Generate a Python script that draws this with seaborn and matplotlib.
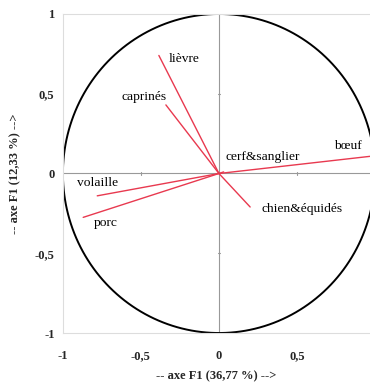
import numpy as np
import pandas as pd
import seaborn as sns
import matplotlib
matplotlib.use('Agg')
import matplotlib.pyplot as plt

sns.set_theme(style='white')
plt.rcParams['font.family'] = ['Liberation Serif', 'DejaVu Serif']

# correlation circle data (F1, F2 coordinates)
names = ['lièvre', 'caprinés', 'cerf&sanglier', 'bœuf', 'chien&équidés', 'volaille', 'porc']
f1 = [-0.385, -0.34, 0.03, 0.99, 0.20, -0.78, -0.87]
f2 = [0.74, 0.43, 0.01, 0.11, -0.21, -0.14, -0.275]

tick_vals = [-1, -0.5, 0, 0.5, 1]
tick_labels = ['-1', '-0,5', '0', '0,5', '1']

red = '#e8394f'

fig = plt.figure(figsize=(3.70, 3.83), dpi=100)
ax = fig.add_axes([0.170, 0.1305, 0.830, 0.833])

# unit circle
t = np.linspace(0, 2 * np.pi, 400)
circle = pd.DataFrame({'x': np.cos(t), 'y': np.sin(t)})
sns.lineplot(data=circle, x='x', y='y', sort=False, estimator=None,
             color='black', lw=1.4, ax=ax)

# vectors from the origin
rows = []
for n, x, y in zip(names, f1, f2):
    rows.append({'name': n, 'x': 0.0, 'y': 0.0})
    rows.append({'name': n, 'x': x, 'y': y})
vec = pd.DataFrame(rows)
sns.lineplot(data=vec, x='x', y='y', units='name', estimator=None, sort=False,
             color=red, lw=1.0, ax=ax)

# cross axes through origin
ax.axhline(0, color='#999999', lw=0.8, zorder=0)
ax.axvline(0, color='#999999', lw=0.8, zorder=0)
for v in (-0.5, 0.5):
    ax.plot([v, v], [-0.012, 0.012], color='#999999', lw=0.8)
    ax.plot([-0.008, 0.008], [v, v], color='#999999', lw=0.8)

# labels
lab_pos = {
    'lièvre': (-0.32, 0.72),
    'caprinés': (-0.625, 0.48),
    'cerf&sanglier': (0.04, 0.105),
    'bœuf': (0.74, 0.17),
    'chien&équidés': (0.27, -0.225),
    'volaille': (-0.91, -0.06),
    'porc': (-0.80, -0.31),
}
for n, (lx, ly) in lab_pos.items():
    ax.text(lx, ly, n, fontsize=9.7, ha='left', va='center', color='black')

ax.set_xlim(-1, 0.968)
ax.set_ylim(-1, 1)
ax.set_xticks([-1, -0.5, 0, 0.5])
ax.set_xticklabels(tick_labels[:4], fontsize=9, fontweight='bold')
ax.set_yticks(tick_vals)
ax.set_yticklabels(tick_labels, fontsize=9, fontweight='bold')
ax.tick_params(axis='x', length=0, pad=12)
ax.tick_params(axis='y', length=0, pad=6)

for s in ax.spines.values():
    s.set_color('#dddddd')
    s.set_linewidth(0.8)
ax.spines['right'].set_visible(False)

ax.set_xlabel('-- axe F1 (36,77 %) -->', fontsize=9, fontweight='bold', labelpad=6)
ax.set_ylabel('-- axe F1 (12,33 %) -->', fontsize=9, fontweight='bold', labelpad=10)

fig.savefig('out.png', dpi=100)
